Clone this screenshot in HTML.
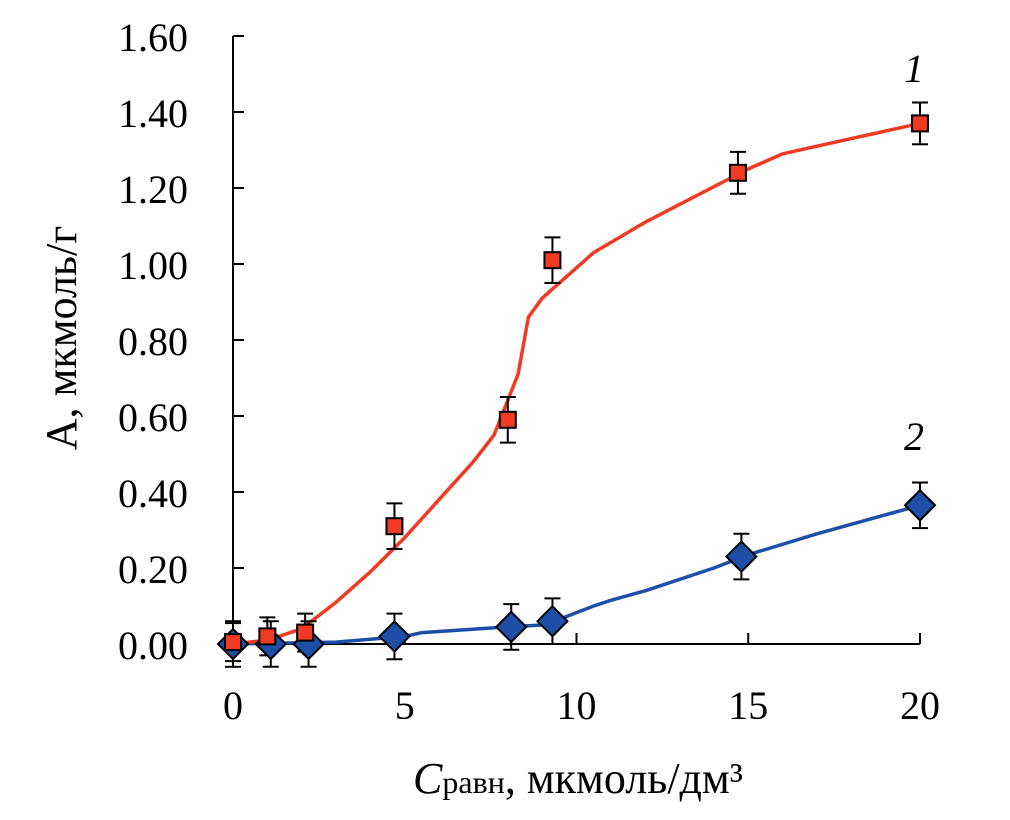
<!DOCTYPE html>
<html><head><meta charset="utf-8"><style>
body{margin:0;background:#fff}
text{font-family:"Liberation Serif",serif;fill:#000}
</style></head><body>
<svg id="chart" width="1010" height="815" viewBox="0 0 1010 815"></svg>
<script>
const xTicks=[0,5,10,15,20];
const yTicks=[0,0.2,0.4,0.6,0.8,1.0,1.2,1.4,1.6];
const s1X=[0,1.0,2.1,4.7,8.0,9.3,14.7,20];
const s1Y=[0.005,0.02,0.03,0.31,0.59,1.01,1.24,1.37];
const s1Err=[0.05,0.05,0.05,0.06,0.06,0.06,0.055,0.055];
const s2X=[0,1.1,2.2,4.7,8.1,9.3,14.8,20];
const s2Y=[0,0,0,0.02,0.045,0.06,0.23,0.365];
const s2Err=[0.06,0.06,0.06,0.06,0.06,0.06,0.06,0.06];
const c1X=[0,1,2,3,4,5,6,7,7.6,8.3,8.6,9,10,10.5,12,13.5,15,16,18,20];
const c1Y=[0,0.01,0.04,0.11,0.19,0.28,0.38,0.48,0.55,0.71,0.86,0.91,0.99,1.03,1.11,1.18,1.25,1.29,1.33,1.37];
const c2X=[0,3,5,5.5,8,9,9.5,10.5,11,12,14,15,17,20];
const c2Y=[0,0.005,0.02,0.03,0.045,0.05,0.065,0.1,0.115,0.14,0.2,0.235,0.29,0.365];

const svg=document.getElementById('chart');
const NS='http://www.w3.org/2000/svg';
const X0=233,X1=920,Y0=644,Y1=36;
const sx=v=>X0+(X1-X0)*v/20;
const sy=v=>Y0-(Y0-Y1)*v/1.6;
function mk(t,a,p){const e=document.createElementNS(NS,t);for(const k in a)e.setAttribute(k,a[k]);(p||svg).appendChild(e);return e;}

let e=mk('line',{x1:X0,y1:Y0,x2:X1,y2:Y0,stroke:'#000','stroke-width':2});


e=mk('line',{x1:X0,y1:Y0,x2:X0,y2:Y1,stroke:'#000','stroke-width':2});


xTicks.forEach(v=>{
  let t=mk('line',{x1:sx(v),y1:Y0,x2:sx(v),y2:Y0-11,stroke:'#000','stroke-width':2});
  
  
  let l=mk('text',{x:sx(v),y:719,'text-anchor':'middle','font-size':40});
  l.textContent=String(v);
  
  
});
yTicks.forEach(v=>{
  let t=mk('line',{x1:X0,y1:sy(v),x2:X0+11,y2:sy(v),stroke:'#000','stroke-width':2});
  
  
  let l=mk('text',{x:188,y:sy(v)+15,'text-anchor':'end','font-size':40});
  l.textContent=v.toFixed(2);
  
  
});
function curve(xs,ys,col,name){
  const p=mk('polyline',{points:xs.map((x,i)=>sx(x)+','+sy(ys[i])).join(' '),fill:'none',stroke:col,'stroke-width':3.5,'stroke-linejoin':'round'});
  
  
}
function errs(xs,ys,es,name){
  xs.forEach((x,i)=>{
    const g=mk('g',{stroke:'#000','stroke-width':2});
    
    
    const a=sy(ys[i]+es[i]),b=sy(ys[i]-es[i]);
    mk('line',{x1:sx(x),y1:a,x2:sx(x),y2:b},g);
    mk('line',{x1:sx(x)-8,y1:a,x2:sx(x)+8,y2:a},g);
    mk('line',{x1:sx(x)-8,y1:b,x2:sx(x)+8,y2:b},g);
  });
}
curve(c2X,c2Y,'#1d4fa8','curve-2');
curve(c1X,c1Y,'#f03a24','curve-1');
errs(s2X,s2Y,s2Err,'error-bar-2');
errs(s1X,s1Y,s1Err,'error-bar-1');
s2X.forEach((x,i)=>{
  const cx=sx(x),cy=sy(s2Y[i]),r=15;
  const p=mk('polygon',{points:`${cx},${cy-r} ${cx+r},${cy} ${cx},${cy+r} ${cx-r},${cy}`,fill:'#1d4fa8',stroke:'#000','stroke-width':2});
  
  
});
s1X.forEach((x,i)=>{
  const cx=sx(x),cy=sy(s1Y[i]);
  const p=mk('rect',{x:cx-8,y:cy-8,width:16,height:16,fill:'#f03a24',stroke:'#000','stroke-width':2});
  
  
});
</script>
<svg style="position:absolute;left:0;top:0" width="1010" height="815">
<text x="914" y="82" font-size="40" font-style="italic" text-anchor="middle">1</text>
<text x="914" y="450" font-size="40" font-style="italic" text-anchor="middle">2</text>
<text transform="translate(76,338) rotate(-90)" font-size="44" text-anchor="middle">А, мкмоль/г</text>
<text x="578" y="793" font-size="44" text-anchor="middle"><tspan font-style="italic">C</tspan><tspan font-size="32">равн</tspan>, мкмоль/дм³</text>
</svg>
</body></html>
